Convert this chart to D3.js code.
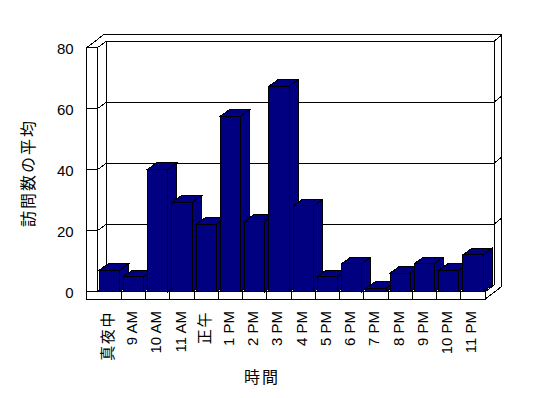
<!DOCTYPE html>
<html><head><meta charset="utf-8">
<script src="https://cdn.jsdelivr.net/npm/d3@7"></script>
<style>
html,body{margin:0;padding:0;background:#fff;}
svg{display:block;}
text{font-family:"Liberation Sans",Arial,"Noto Sans CJK JP",sans-serif;fill:#000;}
</style></head>
<body>
<svg id="c" width="548" height="398"></svg>
<script>
const categories = ["真夜中","9 AM","10 AM","11 AM","正午","1 PM","2 PM","3 PM","4 PM","5 PM","6 PM","7 PM","8 PM","9 PM","10 PM","11 PM"];
const values = [7.1, 5.0, 40.2, 29.3, 22.1, 57.6, 23.1, 67.4, 28.1, 5.0, 9.2, 1.1, 6.1, 9.2, 7.0, 12.1];
const yTicks = [0, 20, 40, 60, 80];
const yTitle = "訪問数の平均";
const xTitle = "時間";

const svg = d3.select("#c");
const xL = 97.3, xR = 485, yB = 291.7, yT = 47.7;
const dX = 9, dY = -6.4;          // plot depth
const tX = 7.9, tY = -6.6;        // back wall thickness
const wallW = 10.6, floorH = 7.6; // left wall / floor thickness

const x = d3.scaleBand().domain(categories).range([xL, xR]).paddingInner(0).paddingOuter(0);
const y = d3.scaleLinear().domain([0, 80]).range([yB, yT]);

const g = svg.append("g").attr("shape-rendering", "crispEdges");
const line = (pts) => g.append("path").attr("d", d3.line()(pts)).attr("fill", "none").attr("stroke", "#000").attr("stroke-width", 1);

const xO = xL - wallW;
// silhouette
g.append("path").attr("d", d3.line()([
  [xO, yT], [xO + dX + tX, yT + dY + tY], [xR + dX + tX, yT + dY + tY],
  [xR + dX + tX, yB + floorH + dY + tY - 0], [xR, yB + floorH], [xO, yB + floorH]
]) + "Z").attr("fill", "#fff").attr("stroke", "#000");

// left wall front strip
line([[xO, yT], [xL, yT]]);
line([[xL, yT], [xL, yB]]);
// inner diagonal top-left
line([[xL, yT], [xL + dX, yT + dY]]);
// back wall front face
line([[xL + dX, yT + dY], [xR + dX, yT + dY]]);
line([[xL + dX, yT + dY], [xL + dX, yB + dY]]);
line([[xR + dX, yT + dY], [xR + dX, yB + dY]]);
line([[xR + dX, yT + dY], [xR + dX + tX, yT + dY + tY]]);
// floor
line([[xO, yB], [xR, yB]]);
line([[xR, yB], [xR, yB + floorH]]);
line([[xR, yB], [xR + dX, yB + dY]]);
line([[xL + dX, yB + dY], [xR + dX, yB + dY]]);
line([[xL, yB], [xL + dX, yB + dY]]);
// gridlines
yTicks.filter(v => v > 0 && v < 80).forEach(v => {
  const yy = y(v);
  line([[xO, yy], [xL, yy]]);
  line([[xL, yy], [xL + dX, yy + dY]]);
  line([[xL + dX, yy + dY], [xR + dX, yy + dY]]);
  line([[xR + dX, yy + dY], [xR + dX + tX, yy + dY + tY]]);
});
// floor front ticks
categories.slice(1).forEach(c => line([[x(c), yB], [x(c), yB + floorH]]));

// bars
const bw = x.bandwidth();
categories.forEach((c, i) => {
  const v = values[i];
  const x0 = x(c) + 2, x1 = x(c) + bw - 2;
  const yt = y(v);
  const bg = g.append("g").attr("fill", "#000080").attr("stroke", "#000").attr("stroke-width", 1);
  bg.append("path").attr("d", d3.line()([[x1, yt], [x1 + dX, yt + dY], [x1 + dX, yB + dY], [x1, yB]]) + "Z");
  bg.append("path").attr("d", d3.line()([[x0, yt], [x1, yt], [x1 + dX, yt + dY], [x0 + dX, yt + dY]]) + "Z");
  bg.append("path").attr("d", d3.line()([[x0, yt], [x1, yt], [x1, yB], [x0, yB]]) + "Z");
});

// y axis labels
const ya = svg.append("g").attr("transform", `translate(${xO},0)`)
  .call(d3.axisLeft(y).tickValues(yTicks).tickSize(0).tickPadding(13).tickFormat(d3.format("d")));
ya.select(".domain").remove();
ya.selectAll("text").attr("font-size", 15).attr("font-family", '"Liberation Sans",Arial,sans-serif').attr("dy", "0.36em");

// x axis labels
const xa = svg.append("g").attr("transform", `translate(-2,${311})`)
  .call(d3.axisBottom(x).tickSize(0));
xa.select(".domain").remove();
xa.selectAll("text")
  .attr("y", 0).attr("x", 0).attr("dy", "0.36em")
  .attr("transform", "rotate(-90)")
  .attr("text-anchor", "end")
  .attr("font-size", d => /[^\x00-\x7f]/.test(d) ? 15 : 15)
  .attr("letter-spacing", d => /[^\x00-\x7f]/.test(d) ? 1.6 : 0)
  .attr("font-family", '"Liberation Sans",Arial,"Noto Sans CJK JP",sans-serif');

// titles
svg.append("text").attr("transform", "translate(28,173) rotate(-90)")
  .attr("text-anchor", "middle").attr("dy", "0.36em")
  .attr("font-size", 16).attr("letter-spacing", 2).text(yTitle);
svg.append("text").attr("x", 262).attr("y", 377)
  .attr("text-anchor", "middle").attr("dy", "0.36em")
  .attr("font-size", 16).attr("letter-spacing", 2).text(xTitle);
</script>
</body></html>
